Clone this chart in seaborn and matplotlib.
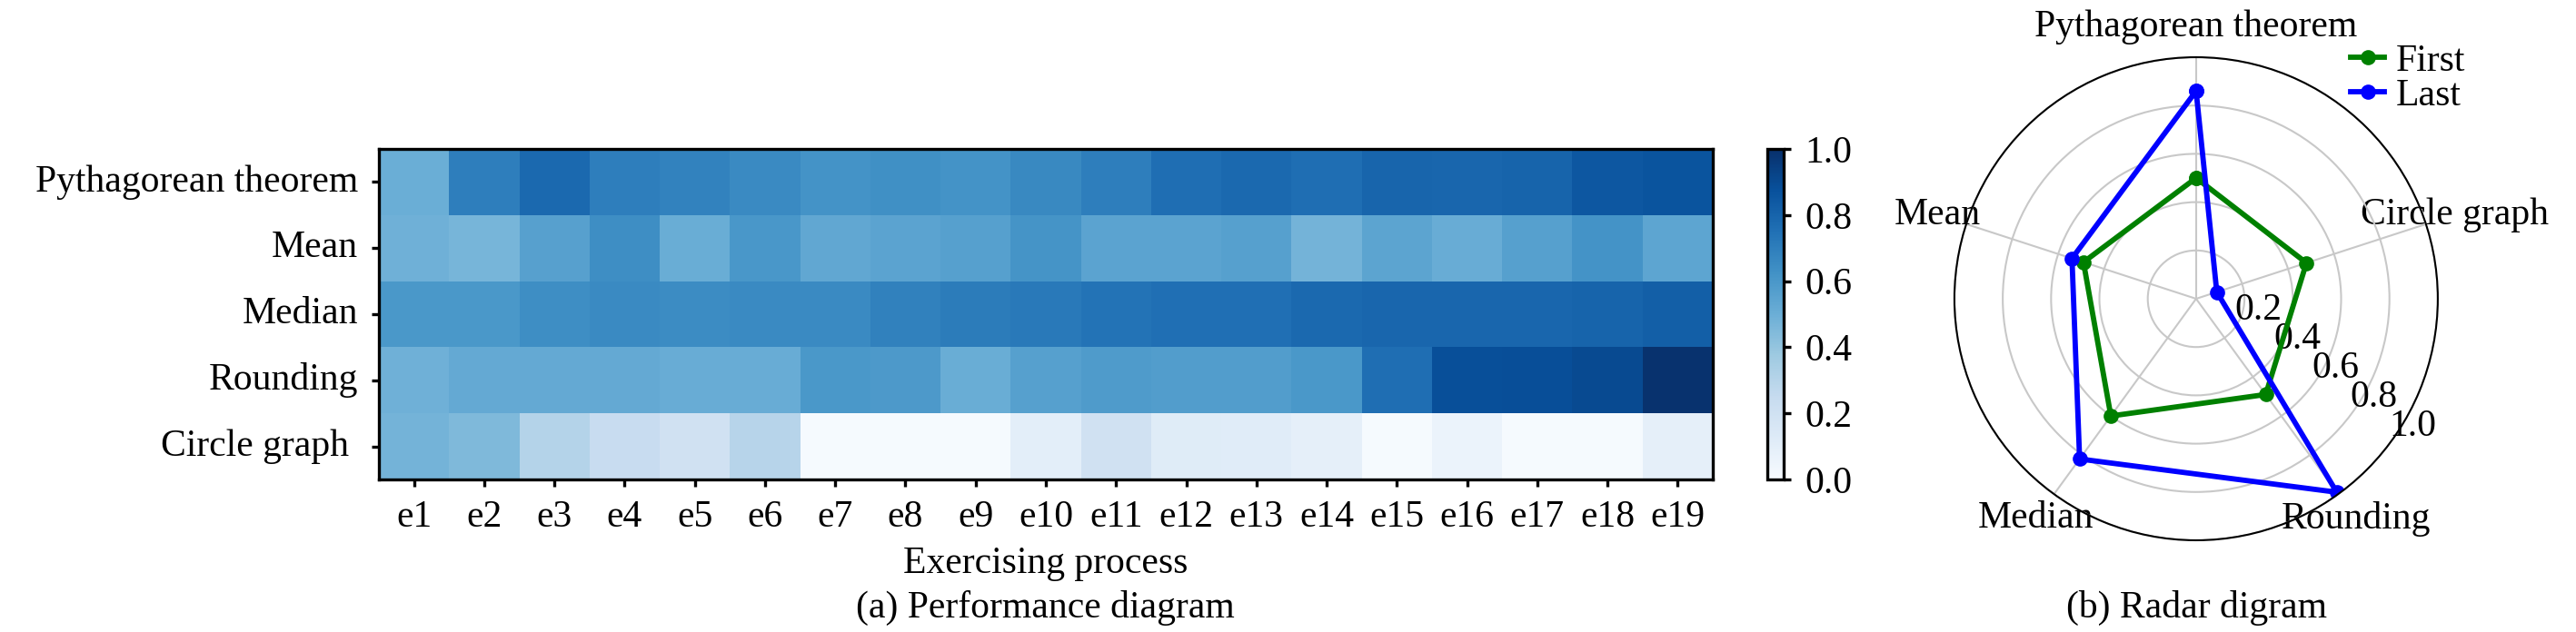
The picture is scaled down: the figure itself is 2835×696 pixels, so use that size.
import matplotlib.pyplot as plt
import numpy as np
import pandas as pd
import seaborn as sns

SKILLS = ["Pythagorean theorem", "Mean", "Median", "Rounding", "Circle graph"]
EXERCISES = [f"e{i}" for i in range(1, 20)]

# mastery per exercise step, one list per skill
PYTHAGOREAN = [0.50, 0.70, 0.78, 0.70, 0.685, 0.655, 0.62, 0.63, 0.62, 0.66,
               0.70, 0.76, 0.78, 0.76, 0.795, 0.79, 0.80, 0.85, 0.86]
MEAN = [0.49, 0.47, 0.56, 0.64, 0.505, 0.605, 0.53, 0.55, 0.565, 0.615,
        0.55, 0.55, 0.565, 0.48, 0.545, 0.51, 0.565, 0.62, 0.54]
MEDIAN = [0.60, 0.60, 0.64, 0.655, 0.645, 0.655, 0.655, 0.69, 0.71, 0.72,
          0.74, 0.755, 0.755, 0.78, 0.79, 0.79, 0.79, 0.80, 0.82]
ROUNDING = [0.49, 0.52, 0.52, 0.52, 0.51, 0.51, 0.60, 0.59, 0.505, 0.565,
            0.585, 0.575, 0.575, 0.60, 0.76, 0.88, 0.885, 0.90, 0.99]
CIRCLE = [0.48, 0.45, 0.306, 0.24, 0.20, 0.30, 0.01, 0.01, 0.01, 0.10,
          0.20, 0.12, 0.115, 0.09, 0.01, 0.06, 0.01, 0.01, 0.09]

CBAR_TICKS = [0.0, 0.2, 0.4, 0.6, 0.8, 1.0]
R_TICKS = [0.2, 0.4, 0.6, 0.8, 1.0]

plt.rcParams["font.family"] = ["Liberation Serif", "DejaVu Serif"]
plt.rcParams["font.size"] = 10
plt.rcParams["xtick.major.size"] = 2
plt.rcParams["ytick.major.size"] = 2
plt.rcParams["axes.linewidth"] = 0.8

perf = pd.DataFrame([PYTHAGOREAN, MEAN, MEDIAN, ROUNDING, CIRCLE],
                    index=SKILLS, columns=EXERCISES)

fig = plt.figure(figsize=(9.45, 2.32), dpi=300)

# (a) heatmap
ax = fig.add_axes([0.1471, 0.2414, 0.5178, 0.523])
cax = fig.add_axes([0.6861, 0.2414, 0.00635, 0.523])
sns.heatmap(perf, ax=ax, cbar_ax=cax, cmap="Blues", vmin=0, vmax=1)
for s in ax.spines.values():
    s.set_visible(True)
    s.set_linewidth(0.8)
ax.tick_params(left=True, bottom=True, length=2)
ylabels = SKILLS[:-1] + [SKILLS[-1] + " "]
ax.set_yticklabels(ylabels, rotation=0, va="center")
ax.set_xticklabels(EXERCISES, rotation=0)
ax.set_xlabel("Exercising process", labelpad=3)
ax.set_ylabel("")
cb = ax.collections[0].colorbar
cb.outline.set_visible(True)
cb.outline.set_linewidth(0.8)
cb.set_ticks(CBAR_TICKS)
cb.ax.set_yticklabels([f"{t:.1f}" for t in CBAR_TICKS])
cb.ax.tick_params(length=2)

# (b) radar of first vs last exercise
pax = fig.add_axes([0.7587, 0.1451, 0.18765, 0.7644], projection="polar")
angles = np.linspace(0, 2 * np.pi, len(SKILLS), endpoint=False)
loop = np.r_[angles, 2 * np.pi]
first = perf[EXERCISES[0]].to_numpy()
last = perf[EXERCISES[-1]].to_numpy()
radar = pd.DataFrame({
    "theta": np.r_[loop, loop],
    "score": np.r_[first, first[:1], last, last[:1]],
    "attempt": ["First"] * len(loop) + ["Last"] * len(loop),
})
pax.set_theta_offset(np.pi / 2)
sns.lineplot(data=radar, x="theta", y="score", hue="attempt",
             palette={"First": "green", "Last": "blue"}, sort=False,
             estimator=None, marker="o", markersize=4, markeredgewidth=0,
             lw=1.4, ax=pax, legend=False)
pax.set_xlabel("")
pax.set_ylabel("")
pax.set_xticks(angles, SKILLS)
pax.set_ylim(0, 1)
pax.set_yticks(R_TICKS, [f"{t:.1f}" for t in R_TICKS])
pax.set_rlabel_position(233)
pax.grid(color="#c8c8c8", lw=0.5)
pax.spines["polar"].set_linewidth(0.5)
pax.tick_params(axis="x", pad=-1)
pax.legend(handles=pax.lines[:2], labels=["First", "Last"], frameon=False,
           loc="upper left", bbox_to_anchor=(0.9125, 0.931),
           bbox_transform=fig.transFigure, borderaxespad=0, borderpad=0,
           handlelength=0.9, handletextpad=0.3, labelspacing=0.0)

fig.text(1150 / 2835, 1 - 680 / 696, "(a) Performance diagram", ha="center", va="baseline")
fig.text(2417 / 2835, 1 - 680 / 696, "(b) Radar digram", ha="center", va="baseline")

fig.savefig("out.png", dpi=300)
